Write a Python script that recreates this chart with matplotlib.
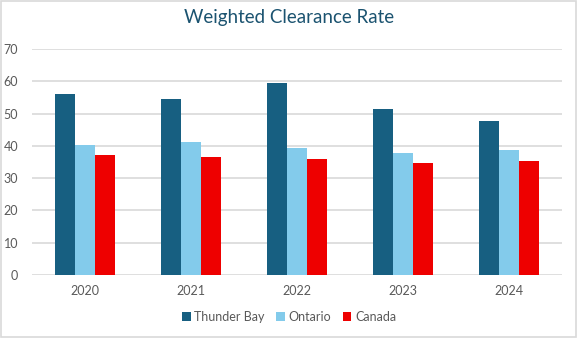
import numpy as np
import matplotlib.pyplot as plt
from matplotlib.patches import Rectangle

plt.rcParams['font.family'] = ['Lato', 'DejaVu Sans']

years = ['2020', '2021', '2022', '2023', '2024']
thunder_bay = [56.2, 54.6, 59.6, 51.5, 47.8]
ontario = [40.4, 41.3, 39.4, 37.9, 38.8]
canada = [37.3, 36.7, 36.0, 34.8, 35.4]

fig = plt.figure(figsize=(5.78, 3.38), dpi=100)
ax = fig.add_axes([32 / 578, 63 / 338, 530 / 578, 226 / 338])

x = np.arange(len(years))
w = 0.19
ax.bar(x - w, thunder_bay, w, color='#175F81', label='Thunder Bay', zorder=2)
ax.bar(x, ontario, w, color='#83CBEB', label='Ontario', zorder=2)
ax.bar(x + w, canada, w, color='#EE0000', label='Canada', zorder=2)

ax.set_xlim(-0.5, len(years) - 0.5)
ax.set_ylim(0, 70)
ax.set_yticks(range(0, 71, 10))
ax.set_xticks(x)
ax.set_xticklabels(years)
ax.grid(axis='y', color='#D9D9D9', linewidth=1.2, zorder=0)
for s in ax.spines.values():
    s.set_visible(False)
ax.tick_params(length=0, labelsize=9, colors='#595959', pad=7)
ax.tick_params(axis='y', pad=10)

# title centred on the whole figure
fig.text(0.5, 1 - 18 / 338, 'Weighted Clearance Rate', fontsize=13.5, color='#1B5370',
         ha='center', va='center')

fig.legend(loc='center', bbox_to_anchor=(0.5, 1 - 317 / 338), ncol=3, frameon=False,
           fontsize=9, labelcolor='#595959', handlelength=0.7, handleheight=0.7,
           handletextpad=0.3, columnspacing=0.9)

fig.patches.append(Rectangle((0.002, 0.003), 0.995, 0.994, transform=fig.transFigure,
                             fill=False, edgecolor='#D9D9D9', linewidth=1.2))

fig.savefig('out.png', dpi=100)
